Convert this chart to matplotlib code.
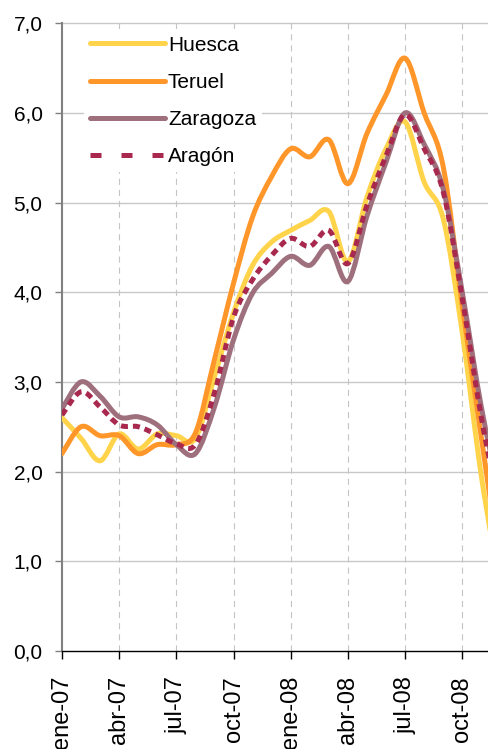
import numpy as np
import matplotlib.pyplot as plt
from matplotlib.path import Path
from matplotlib.patches import PathPatch
from matplotlib.lines import Line2D

plt.rcParams['font.family'] = ['Liberation Sans', 'DejaVu Sans']

# meses ene-07 .. dic-08
months = ['ene-07', 'feb-07', 'mar-07', 'abr-07', 'may-07', 'jun-07',
          'jul-07', 'ago-07', 'sep-07', 'oct-07', 'nov-07', 'dic-07',
          'ene-08', 'feb-08', 'mar-08', 'abr-08', 'may-08', 'jun-08',
          'jul-08', 'ago-08', 'sep-08', 'oct-08', 'nov-08', 'dic-08']

huesca = [2.60, 2.37, 2.12, 2.42, 2.25, 2.42, 2.40, 2.37, 3.06, 3.77, 4.30, 4.56,
          4.69, 4.80, 4.90, 4.34, 5.06, 5.60, 5.90, 5.23, 4.82, 3.55, 1.95, 0.70]
teruel = [2.20, 2.50, 2.40, 2.40, 2.20, 2.30, 2.30, 2.43, 3.25, 4.10, 4.84, 5.29,
          5.60, 5.51, 5.70, 5.21, 5.77, 6.20, 6.61, 6.00, 5.40, 3.85, 2.38, 0.90]
zaragoza = [2.70, 3.00, 2.84, 2.61, 2.61, 2.52, 2.30, 2.20, 2.72, 3.47, 3.99, 4.21,
            4.40, 4.30, 4.51, 4.12, 4.85, 5.45, 6.00, 5.65, 5.15, 4.00, 2.72, 1.70]
aragon = [2.63, 2.89, 2.72, 2.52, 2.50, 2.41, 2.31, 2.30, 2.88, 3.72, 4.14, 4.41,
          4.60, 4.51, 4.69, 4.32, 4.97, 5.52, 5.98, 5.60, 5.12, 3.93, 2.60, 1.55]

tick_idx = [0, 3, 6, 9, 12, 15, 18, 21]

c_hue = '#FFD34A'
c_ter = '#FF962A'
c_zar = '#9E6F7C'
c_ara = '#A8284E'


def smooth_path(y):
    # Excel-style smoothed line: Catmull-Rom -> cubic Bezier segments
    x = np.arange(len(y), dtype=float)
    p = np.column_stack([x, np.asarray(y, dtype=float)])
    pp = np.vstack([p[0], p, p[-1]])
    verts = [p[0]]
    codes = [Path.MOVETO]
    for i in range(len(p) - 1):
        c1 = pp[i + 1] + (pp[i + 2] - pp[i]) / 6
        c2 = pp[i + 2] - (pp[i + 3] - pp[i + 1]) / 6
        verts += [c1, c2, pp[i + 2]]
        codes += [Path.CURVE4] * 3
    return Path(verts, codes)


fig = plt.figure(figsize=(4.88, 7.49), dpi=100)
ax = fig.add_axes([0.127, 0.131, 0.873, 0.838])

ax.set_xlim(0, 22.35)
ax.set_ylim(0, 7)

# grid
for v in range(1, 8):
    ax.axhline(v, color='#c8c8c8', lw=1, zorder=0, clip_on=False)
for t in tick_idx[1:]:
    ax.axvline(t, color='#c4c4c4', lw=0.8, ls=(0, (5.5, 4.5)), zorder=0)

series = [
    (huesca, c_hue, 'Huesca'),
    (teruel, c_ter, 'Teruel'),
    (zaragoza, c_zar, 'Zaragoza'),
]
for vals, col, lab in series:
    ax.add_patch(PathPatch(smooth_path(vals), fill=False, edgecolor=col,
                           lw=3.6, capstyle='round', joinstyle='round',
                           zorder=3))
ax.add_patch(PathPatch(smooth_path(aragon), fill=False, edgecolor=c_ara,
                       lw=3.6, linestyle=(0, (1.4, 1.0)), capstyle='butt',
                       zorder=4))

handles = [
    Line2D([], [], color=c_hue, lw=3.6, solid_capstyle='round'),
    Line2D([], [], color=c_ter, lw=3.6, solid_capstyle='round'),
    Line2D([], [], color=c_zar, lw=3.6, solid_capstyle='round'),
    Line2D([], [], color=c_ara, lw=3.6, ls=(0, (2.2, 4.0)), dash_capstyle='butt'),
]
leg = ax.legend(handles, ['Huesca', 'Teruel', 'Zaragoza', 'Aragón'],
                loc='upper left', bbox_to_anchor=(0.052, 0.99),
                frameon=True, fontsize=15, handlelength=3.6,
                handletextpad=0.12, labelspacing=0.87, borderpad=0.3,
                borderaxespad=0)
leg.get_frame().set_facecolor('white')
leg.get_frame().set_edgecolor('none')
leg.get_frame().set_alpha(1)
leg.set_zorder(5)

ax.set_xticks(tick_idx)
ax.set_xticklabels([months[i] for i in tick_idx], rotation=90,
                   fontsize=17, va='top', ha='center')
ax.set_yticks(range(0, 8))
ax.set_yticklabels([f'{v:.1f}'.replace('.', ',') for v in range(0, 8)],
                   fontsize=15)
ax.tick_params(axis='x', direction='out', length=6, width=1, color='black',
               pad=12)
ax.tick_params(axis='y', direction='out', length=5, width=1, color='#808080',
               pad=9)

for s in ['top', 'right']:
    ax.spines[s].set_visible(False)
ax.spines['left'].set_color('#808080')
ax.spines['left'].set_linewidth(1.5)
ax.spines['bottom'].set_color('black')
ax.spines['bottom'].set_linewidth(1)
ax.spines['bottom'].set_zorder(6)

fig.savefig('out.png', dpi=100)
